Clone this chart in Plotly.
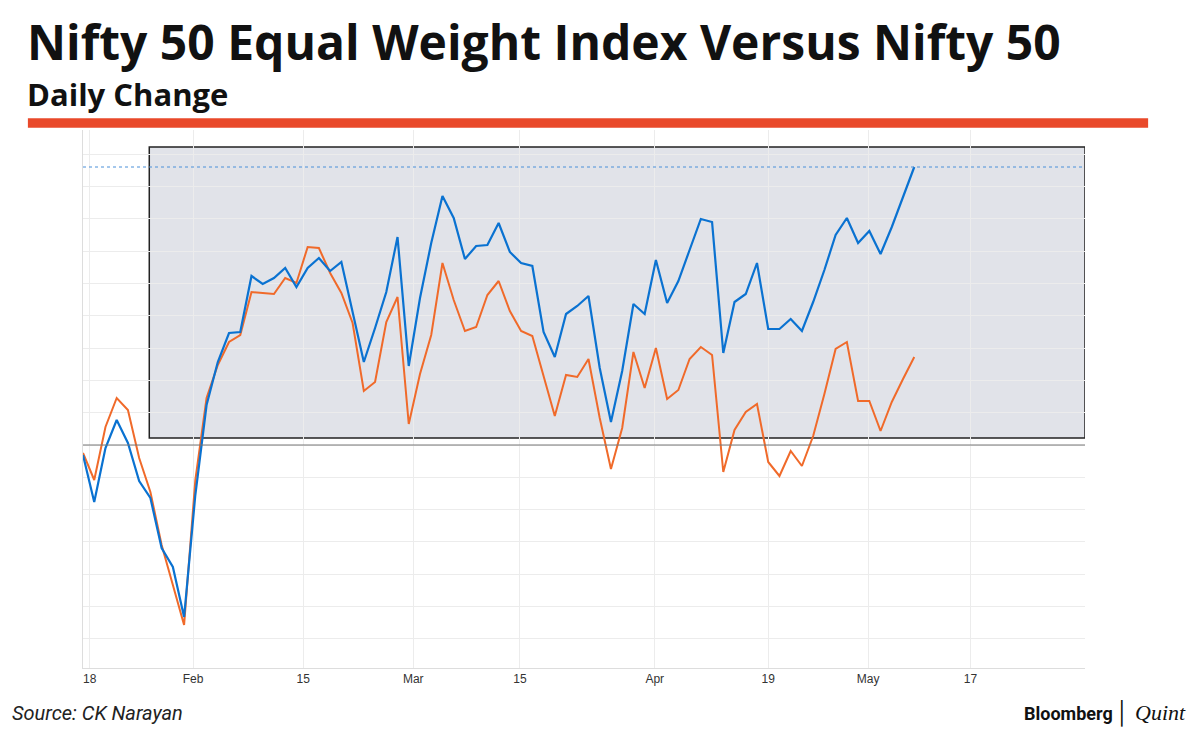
import plotly.graph_objects as go

blue = [-10,-57,-3,25,2,-36,-53,-103,-122,-172,-50,40,83,112,113,169,161,167,177,158,177,187,174,183,133,83,117,153,208,79,147,202,249,227,186,199,200,222,193,182,179,113,88,131,139,149,77,23,74,141,131,185,142,164,195,226,223,92,143,151,182,116,116,126,114,143,175,210,227,202,214,191,218,247,278]
orange = [-8,-35,18,47,35,-13,-47,-100,-140,-180,-35,47,80,103,110,153,152,151,167,162,198,197,172,152,122,54,63,123,148,21,71,110,182,145,114,118,150,164,134,114,109,69,29,70,68,86,27,-24,17,93,57,97,46,55,86,98,90,-27,15,33,41,-17,-31,-6,-21,9,51,96,103,44,44,14,43,66,88]
x = list(range(len(blue)))
tick_pos = [0.6, 9.8, 19.6, 29.4, 38.9, 50.9, 61, 69.9, 79]
tick_text = ["18", "Feb", "15", "Mar", "15", "Apr", "19", "May", "17"]

fig = go.Figure()
fig.add_shape(type="rect", x0=5.9, x1=89.2, y0=7, y1=298, fillcolor="#e1e3e9",
              line=dict(color="#222", width=1.5), layer="below")
fig.add_shape(type="line", x0=0, x1=89.2, y0=278, y1=278, line=dict(color="#4a90d9", width=1, dash="dot"))
fig.add_shape(type="line", x0=0, x1=89.2, y0=0, y1=0, line=dict(color="#777", width=1))
fig.add_trace(go.Scatter(x=x, y=orange, mode="lines", line=dict(color="#f06a2a", width=2), hoverinfo="skip"))
fig.add_trace(go.Scatter(x=x, y=blue, mode="lines", line=dict(color="#0a72d1", width=2.2), hoverinfo="skip"))

fig.update_layout(
    width=1200, height=730, showlegend=False, plot_bgcolor="white", paper_bgcolor="white",
    margin=dict(l=75, r=123, t=122, b=70),
    xaxis=dict(range=[0, 89.2], tickvals=tick_pos, ticktext=tick_text, showgrid=True, gridcolor="#ececec",
               zeroline=False, showline=True, linecolor="#ddd", tickfont=dict(family="Liberation Sans Narrow, Arial", size=12, color="#333"),
               ticks=""),
    yaxis=dict(range=[-223, 315], showticklabels=False, dtick=32.3, tick0=0, showgrid=True, gridcolor="#ececec",
               zeroline=False, showline=True, linecolor="#ddd"),
    font=dict(family="Roboto"),
)
fig.add_annotation(text="<b>Nifty 50 Equal Weight Index Versus Nifty 50</b>", xref="paper", yref="paper",
                   x=-0.058, y=1.1, xanchor="left", yanchor="bottom", showarrow=False,
                   font=dict(family="Open Sans", size=48, color="#111"))
fig.add_annotation(text="<b>Daily Change</b>", xref="paper", yref="paper", x=-0.058, y=1.024,
                   xanchor="left", yanchor="bottom", showarrow=False, font=dict(family="Open Sans", size=31, color="#111"))
fig.add_shape(type="rect", xref="paper", yref="paper", x0=-0.055, x1=1.063, y0=1.004, y1=1.022,
              fillcolor="#e9492a", line=dict(width=0))
fig.add_annotation(text="<i>Source: CK Narayan</i>", xref="paper", yref="paper", x=-0.073, y=-0.084,
                   xanchor="left", yanchor="middle", showarrow=False, font=dict(family="Liberation Sans Narrow, Roboto", size=20, color="#222"))
fig.add_annotation(text="<b>Bloomberg</b>", xref="paper", yref="paper", x=1.03, y=-0.084,
                   xanchor="right", yanchor="middle", showarrow=False, font=dict(family="Roboto", size=18, color="#111"))
fig.add_annotation(text="│ <i>Quint</i>", xref="paper", yref="paper", x=1.103, y=-0.084,
                   xanchor="right", yanchor="middle", showarrow=False, font=dict(family="Liberation Serif", size=22, color="#111"))
fig.write_html("out.html")
